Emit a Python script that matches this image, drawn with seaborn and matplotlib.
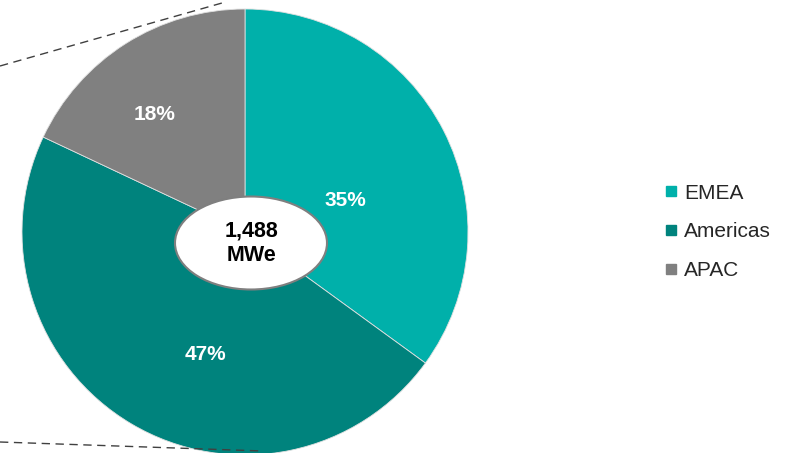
import matplotlib
matplotlib.use("Agg")
import matplotlib.pyplot as plt
from matplotlib.patches import Ellipse
from matplotlib.lines import Line2D
import seaborn as sns

regions = ["EMEA", "Americas", "APAC"]
shares = [35, 47, 18]
total_label = "1,488\nMWe"
colors = ["#00B0AA", "#00837D", "#808080"]

# where each percentage sits, in figure pixels from the top-left
label_xy = [(345, 200), (205, 355), (155, 114)]

sns.set_theme(style="white")
plt.rcParams["font.family"] = ["Liberation Sans", "DejaVu Sans"]

W, H = 794, 453
fig = plt.figure(figsize=(W / 100, H / 100), dpi=100)
ax = fig.add_axes([0, 0, 1, 1])

cx, cy, r = 245, H - 232, 223
palette = sns.color_palette(colors)
wedges, _ = ax.pie(
    shares, colors=palette, startangle=90, counterclock=False,
    center=(cx, cy), radius=r,
    wedgeprops=dict(edgecolor="#e0e0e0", linewidth=0.6),
)
ax.set_xlim(0, W)
ax.set_ylim(0, H)
ax.set_aspect("equal")
ax.axis("off")

for share, (lx, ly) in zip(shares, label_xy):
    ax.text(lx, H - ly, f"{share}%", ha="center", va="center", color="white",
            fontsize=15, fontweight="bold")

# connector lines toward the breakdown
ax.plot([0, 222], [H - 66, H - 3], ls=(0, (6, 4)), color="#404040", lw=1.0, clip_on=False)
ax.plot([0, 263], [H - 442, H - 451], ls=(0, (6, 4)), color="#404040", lw=1.0, clip_on=False)

# total in the centre
ax.add_patch(Ellipse((251, H - 243), 152, 93, facecolor="white", edgecolor="#7f7f7f", lw=1.5, zorder=5))
ax.text(251, H - 243, total_label, ha="center", va="center", fontsize=15.5,
        fontweight="bold", color="black", linespacing=1.2, zorder=6)

handles = [Line2D([], [], marker="s", ls="", markersize=7, color=c) for c in palette]
leg = ax.legend(handles, regions, loc="center left", bbox_to_anchor=(662 / W, 1 - 232 / H),
                frameon=False, fontsize=15, handletextpad=0.15, labelspacing=0.95,
                handlelength=0.9, borderaxespad=0, borderpad=0)

fig.savefig("out.png", dpi=100)
